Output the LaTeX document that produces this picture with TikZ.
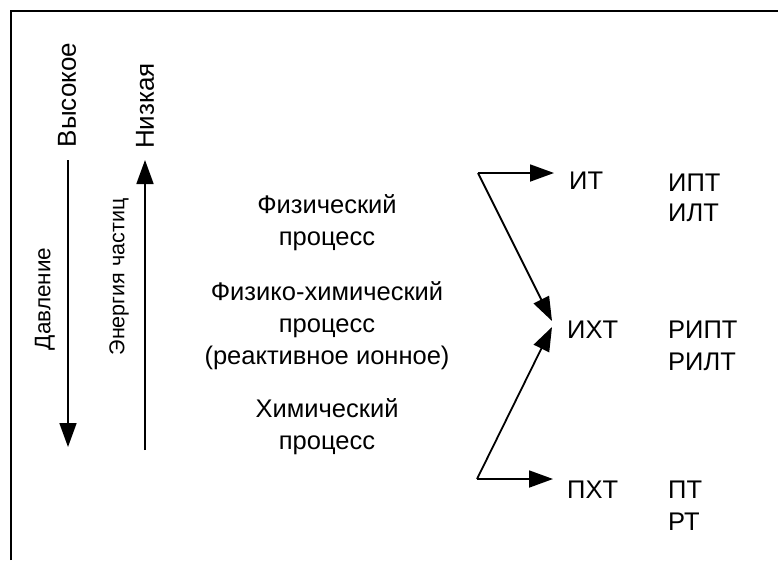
\documentclass[tikz,border=0pt]{standalone}
\usepackage{fontspec}
\setmainfont{Liberation Sans}
\usetikzlibrary{arrows.meta}
\begin{document}
\begin{tikzpicture}[x=1pt,y=-1pt,
  txt/.style={font=\fontsize{25.5}{32}\selectfont, inner sep=0pt},
  ctxt/.style={txt, align=center},
  ln/.style={line width=1.8pt},
  arr/.style={ln, -{Triangle[length=24pt,width=17pt]}}]
\useasboundingbox (0,0) rectangle (778,560);
\draw[line width=2pt] (11,560) -- (11,11) -- (778,11);
% left vertical labels
\node[txt, rotate=90, font=\fontsize{26}{30}\selectfont] (vys) at (67,95) {Высокое};
\node[txt, rotate=90, font=\fontsize{22.5}{28}\selectfont] (dav) at (45,299) {Давление};
\node[txt, rotate=90, font=\fontsize{26}{30}\selectfont] (niz) at (145,106) {Низкая};
\node[txt, rotate=90, font=\fontsize{21.5}{28}\selectfont] (en) at (119,277) {Энергия частиц};
\coordinate (d1) at (68,160);
\coordinate (d2) at (68,447);
\draw[arr] (d1) -- (d2);
\coordinate (e1) at (145,450);
\coordinate (e2) at (145,160);
\draw[arr] (e1) -- (e2);
% centre texts
\node[ctxt] (phys) at (327,223) {Физический\\процесс};
\node[ctxt] (pc) at (327,326) {Физико-химический\\процесс\\(реактивное ионное)};
\node[ctxt] (chem) at (327,427) {Химический\\процесс};
% right labels
\node[txt, anchor=west] (it) at (569,181) {ИТ};
\node[txt, anchor=west] (iht) at (567,330) {ИХТ};
\node[txt, anchor=west] (pht) at (567,490) {ПХТ};
\node[txt, anchor=west] (ipt) at (668,183) {ИПТ};
\node[txt, anchor=west] (ilt) at (668,213) {ИЛТ};
\node[txt, anchor=west] (ript) at (668,330) {РИПТ};
\node[txt, anchor=west] (rilt) at (668,362) {РИЛТ};
\node[txt, anchor=west] (pt) at (668,490) {ПТ};
\node[txt, anchor=west] (rt) at (668,522) {РТ};
% arrows
\coordinate (c1) at (478,173);
\coordinate (c2) at (477,479);
\draw[arr] (c1) -- ([xshift=-15pt]it.west |- c1);
\draw[arr] (c1) -- (552,321);
\draw[arr] (c2) -- ([xshift=-14pt]pht.west |- c2);
\draw[arr] (c2) -- (552,327);
\end{tikzpicture}
\end{document}
